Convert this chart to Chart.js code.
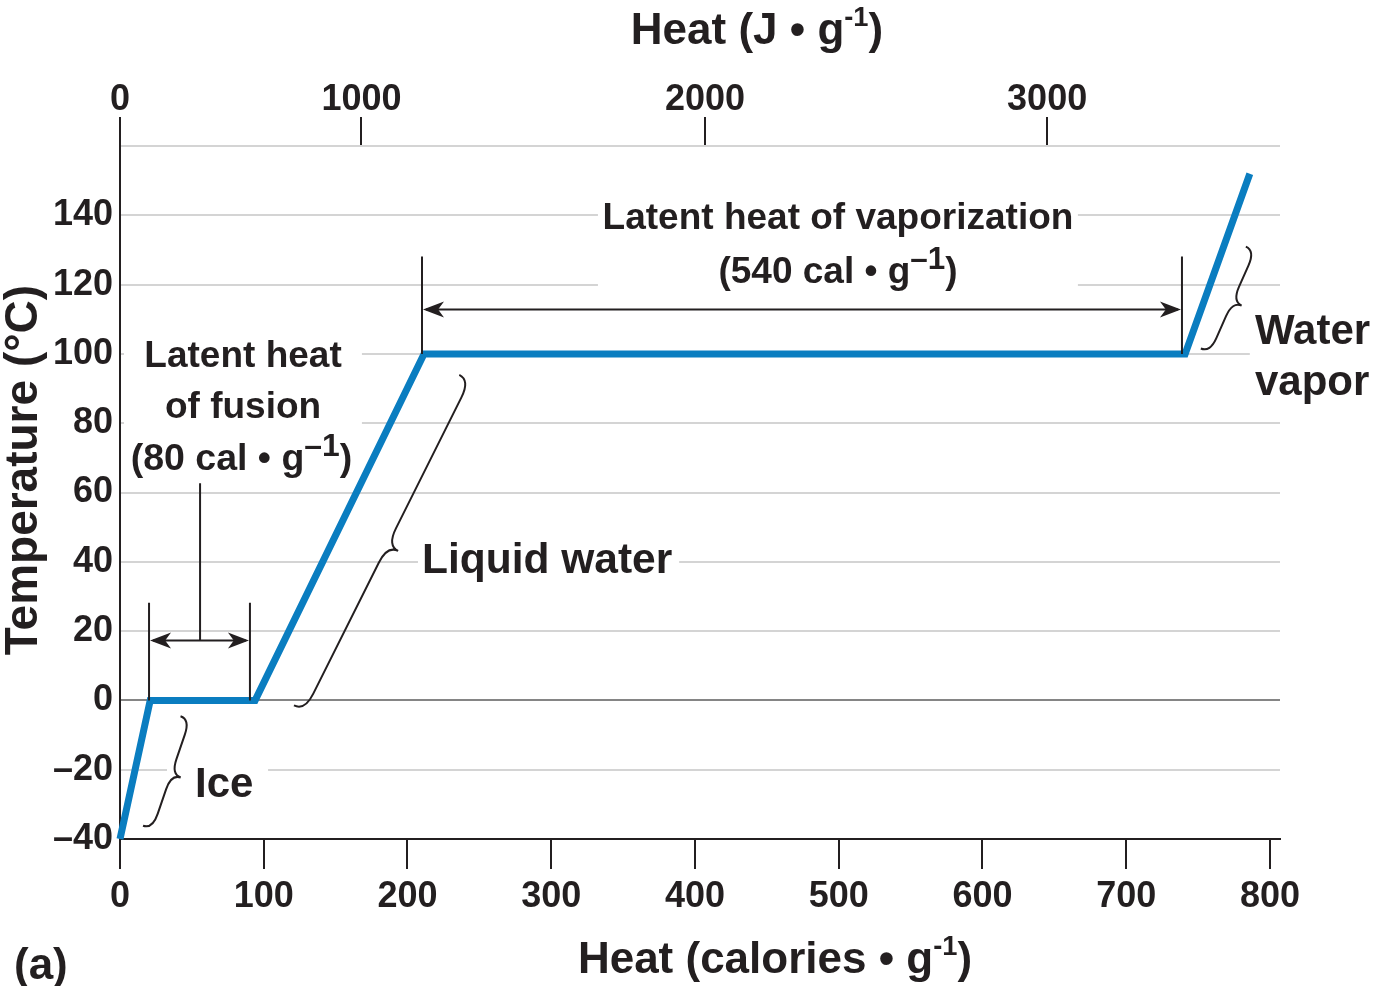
<!DOCTYPE html>
<html><head><meta charset="utf-8">
<script src="https://cdn.jsdelivr.net/npm/chart.js@4.4.1/dist/chart.umd.min.js"></script>
<style>html,body{margin:0;padding:0;background:#fff}#wrap{width:1378px;height:986px;position:relative}</style>
</head><body><div id="wrap"><canvas id="c"></canvas></div>
<script>
// ---- data (heat in calories per gram, temperature in °C) ----
const heatCal = [0, 21, 94, 211.5, 741, 786];
const tempC = [-40, 0, 0, 100, 100, 152];
const xTickValues = [0, 100, 200, 300, 400, 500, 600, 700, 800];
const yTickValues = [-40, -20, 0, 20, 40, 60, 80, 100, 120, 140, 160];
const yTickLabels = ['–40', '–20', '0', '20', '40', '60', '80', '100', '120', '140', ''];
const topTickCal = [0, 168, 407, 645];
const topTickLabels = ['0', '1000', '2000', '3000'];

const INK = '#231f20';
const BLUE = '#0a7dc0';
const FONT = '"Liberation Sans", Arial, Helvetica, sans-serif';

// annotation anchors in data units
const vapBracket = {x1: 210.1, x2: 738.8, yTop: 128.1, yBase: 100, yArrow: 112.8};
const fusBracket = {x1: 20.2, x2: 90.4, yTop: 28.2, yBase: 0, yArrow: 17.3, xStem: 55.7, yStemTop: 62.7};
const braces = [
  {a: [48.7, -5.5], b: [22.6, -37.1], r: 10},
  {a: [243.5, 92.4], b: [128.5, -3.0], r: 12},
  {a: [789.6, 129.8], b: [758.3, 100.4], r: 10}
];
const whiteBoxes = [
  [332.5, 146, 666.4, 116.5],
  [2.8, 106.8, 168.3, 63.6],
  [207.3, 44, 389, 33],
  [32.7, -15, 103, -25],
  [786, 104, 810, 96]
];

function bold(sz) { return 'bold ' + sz + 'px ' + FONT; }
function rich(ctx, parts, x, y, align, size, supScale, supRise) {
  let w = 0;
  parts.forEach(p => { ctx.font = bold(p.sup ? size * supScale : size); p.w = ctx.measureText(p.t).width; w += p.w; });
  let sx = align === 'center' ? x - w / 2 : (align === 'right' ? x - w : x);
  ctx.textAlign = 'left'; ctx.textBaseline = 'alphabetic';
  parts.forEach(p => {
    ctx.font = bold(p.sup ? size * supScale : size);
    ctx.fillText(p.t, sx, p.sup ? y - size * supRise : y);
    sx += p.w;
  });
}
function arrowHead(ctx, tx, ty, dx, dy) {
  const len = 21, hw = 8;
  const px = -dy, py = dx;
  ctx.beginPath();
  ctx.moveTo(tx, ty);
  ctx.lineTo(tx - dx * len + px * hw, ty - dy * len + py * hw);
  ctx.lineTo(tx - dx * len * 0.72, ty - dy * len * 0.72);
  ctx.lineTo(tx - dx * len - px * hw, ty - dy * len - py * hw);
  ctx.closePath();
  ctx.fill();
}
function drawBrace(ctx, A, B, r) {
  const dx = B[0] - A[0], dy = B[1] - A[1], L = Math.hypot(dx, dy);
  const ux = dx / L, uy = dy / L;
  let vx = -uy, vy = ux;
  if (vx < 0) { vx = -vx; vy = -vy; }
  const P = (u, v) => [A[0] + ux * u + vx * v, A[1] + uy * u + vy * v];
  const h = L / 2;
  ctx.beginPath();
  ctx.moveTo(...P(0, -r));
  ctx.quadraticCurveTo(...P(0, 0), ...P(r * 1.6, 0));
  ctx.lineTo(...P(h - r * 1.6, 0));
  ctx.quadraticCurveTo(...P(h, 0), ...P(h, r));
  ctx.quadraticCurveTo(...P(h, 0), ...P(h + r * 1.6, 0));
  ctx.lineTo(...P(L - r * 1.6, 0));
  ctx.quadraticCurveTo(...P(L, 0), ...P(L, -r));
  ctx.stroke();
}

const annot = {
  id: 'annot',
  beforeDatasetsDraw(chart) {
    const ctx = chart.ctx, X = chart.scales.x, Y = chart.scales.y;
    ctx.save();
    ctx.fillStyle = '#fff';
    whiteBoxes.forEach(b => {
      const x1 = X.getPixelForValue(b[0]), y1 = Y.getPixelForValue(b[1]);
      const x2 = X.getPixelForValue(b[2]), y2 = Y.getPixelForValue(b[3]);
      ctx.fillRect(x1, y1, x2 - x1, y2 - y1);
    });
    ctx.restore();
  },
  afterDatasetsDraw(chart) {
    const ctx = chart.ctx, X = chart.scales.x, Y = chart.scales.y;
    const px = v => X.getPixelForValue(v), py = v => Y.getPixelForValue(v);
    ctx.save();
    ctx.strokeStyle = INK; ctx.fillStyle = INK; ctx.lineWidth = 2;
    // vaporization bracket
    let b = vapBracket;
    ctx.beginPath();
    ctx.moveTo(px(b.x1), py(b.yTop)); ctx.lineTo(px(b.x1), py(b.yBase));
    ctx.moveTo(px(b.x2), py(b.yTop)); ctx.lineTo(px(b.x2), py(b.yBase));
    ctx.moveTo(px(b.x1) + 4, py(b.yArrow)); ctx.lineTo(px(b.x2) - 4, py(b.yArrow));
    ctx.stroke();
    arrowHead(ctx, px(b.x1) + 1, py(b.yArrow), -1, 0);
    arrowHead(ctx, px(b.x2) - 1, py(b.yArrow), 1, 0);
    // fusion bracket
    b = fusBracket;
    ctx.beginPath();
    ctx.moveTo(px(b.x1), py(b.yTop)); ctx.lineTo(px(b.x1), py(b.yBase));
    ctx.moveTo(px(b.x2), py(b.yTop)); ctx.lineTo(px(b.x2), py(b.yBase));
    ctx.moveTo(px(b.x1) + 4, py(b.yArrow)); ctx.lineTo(px(b.x2) - 4, py(b.yArrow));
    ctx.moveTo(px(b.xStem), py(b.yStemTop)); ctx.lineTo(px(b.xStem), py(b.yArrow));
    ctx.stroke();
    arrowHead(ctx, px(b.x1) + 1, py(b.yArrow), -1, 0);
    arrowHead(ctx, px(b.x2) - 1, py(b.yArrow), 1, 0);
    // braces
    braces.forEach(br => drawBrace(ctx, [px(br.a[0]), py(br.a[1])], [px(br.b[0]), py(br.b[1])], br.r));
    // texts
    rich(ctx, [{t: 'Latent heat of vaporization'}], px(499.5), py(136.1), 'center', 37, 1, 0);
    rich(ctx, [{t: '(540 cal • g'}, {t: '–1', sup: true}, {t: ')'}], px(499.5), py(120.6), 'center', 37, 0.85, 0.36);
    rich(ctx, [{t: 'Latent heat'}], px(85.6), py(96.1), 'center', 37, 1, 0);
    rich(ctx, [{t: 'of fusion'}], px(85.6), py(81.4), 'center', 37, 1, 0);
    rich(ctx, [{t: '(80 cal • g'}, {t: '–1', sup: true}, {t: ')'}], px(84.5), py(66.5), 'center', 37.5, 0.85, 0.36);
    rich(ctx, [{t: 'Liquid water'}], px(210.1), py(36.8), 'left', 42.5, 1, 0);
    rich(ctx, [{t: 'Ice'}], px(52.2), py(-27.9), 'left', 42, 1, 0);
    rich(ctx, [{t: 'Water'}], px(789.6), py(103.0), 'left', 42, 1, 0);
    rich(ctx, [{t: 'vapor'}], px(789.6), py(88.1), 'left', 42, 1, 0);
    ctx.restore();
  },
  afterDraw(chart) {
    const ctx = chart.ctx;
    ctx.save();
    ctx.fillStyle = INK;
    rich(ctx, [{t: 'Heat (J • g'}, {t: '-1', sup: true}, {t: ')'}], 757, 44, 'center', 44, 0.62, 0.42);
    rich(ctx, [{t: 'Heat (calories • g'}, {t: '-1', sup: true}, {t: ')'}], 775, 973, 'center', 44, 0.62, 0.42);
    rich(ctx, [{t: '(a)'}], 14, 979, 'left', 44, 1, 0);
    ctx.translate(37, 470);
    ctx.rotate(-Math.PI / 2);
    rich(ctx, [{t: 'Temperature (°C)'}], 0, 0, 'center', 46, 1, 0);
    ctx.restore();
  }
};

new Chart(document.getElementById('c'), {
  type: 'line',
  data: {
    datasets: [{
      label: 'Water heating curve',
      data: heatCal.map((h, i) => ({x: h, y: tempC[i]})),
      borderColor: BLUE,
      borderWidth: 7,
      pointRadius: 0,
      tension: 0,
      borderJoinStyle: 'miter',
      borderCapStyle: 'butt',
      clip: false
    }]
  },
  options: {
    responsive: true,
    maintainAspectRatio: false,
    animation: false,
    layout: {padding: {left: 0, right: 98, top: 0, bottom: 0}},
    plugins: {legend: {display: false}, tooltip: {enabled: false}},
    scales: {
      x: {
        type: 'linear', position: 'bottom', min: 0, max: 807,
        afterBuildTicks: s => { s.ticks = xTickValues.map(v => ({value: v})); },
        afterFit: s => { s.height = 147; },
        grid: {drawOnChartArea: false, drawTicks: true, tickLength: 30, color: INK, lineWidth: 2},
        border: {display: true, color: INK, width: 2},
        ticks: {autoSkip: false, maxRotation: 0, padding: 6, color: INK,
          font: {family: FONT, size: 36, weight: 'bold'},
          callback: (v, i) => String(xTickValues[i])}
      },
      x2: {
        type: 'linear', position: 'top', min: 0, max: 807,
        afterBuildTicks: s => { s.ticks = topTickCal.map(v => ({value: v})); },
        afterFit: s => { s.height = 146; },
        grid: {drawOnChartArea: false, drawTicks: true, tickLength: 29, color: INK, lineWidth: 2},
        border: {display: false},
        ticks: {autoSkip: false, maxRotation: 0, padding: -5, color: INK,
          font: {family: FONT, size: 36, weight: 'bold'},
          callback: (v, i) => topTickLabels[i]}
      },
      y: {
        type: 'linear', position: 'left', min: -40, max: 160,
        afterBuildTicks: s => { s.ticks = yTickValues.map(v => ({value: v})); },
        afterFit: s => { s.width = 120; },
        grid: {drawTicks: false, lineWidth: 2,
          color: c => (c.tick && c.tick.value === 0) ? '#858585' : '#d4d4d4'},
        border: {display: true, color: INK, width: 2},
        ticks: {autoSkip: false, padding: 7, color: INK,
          font: {family: FONT, size: 36, weight: 'bold'},
          callback: (v, i) => yTickLabels[i]}
      }
    }
  },
  plugins: [annot]
});
</script>
</body></html>
